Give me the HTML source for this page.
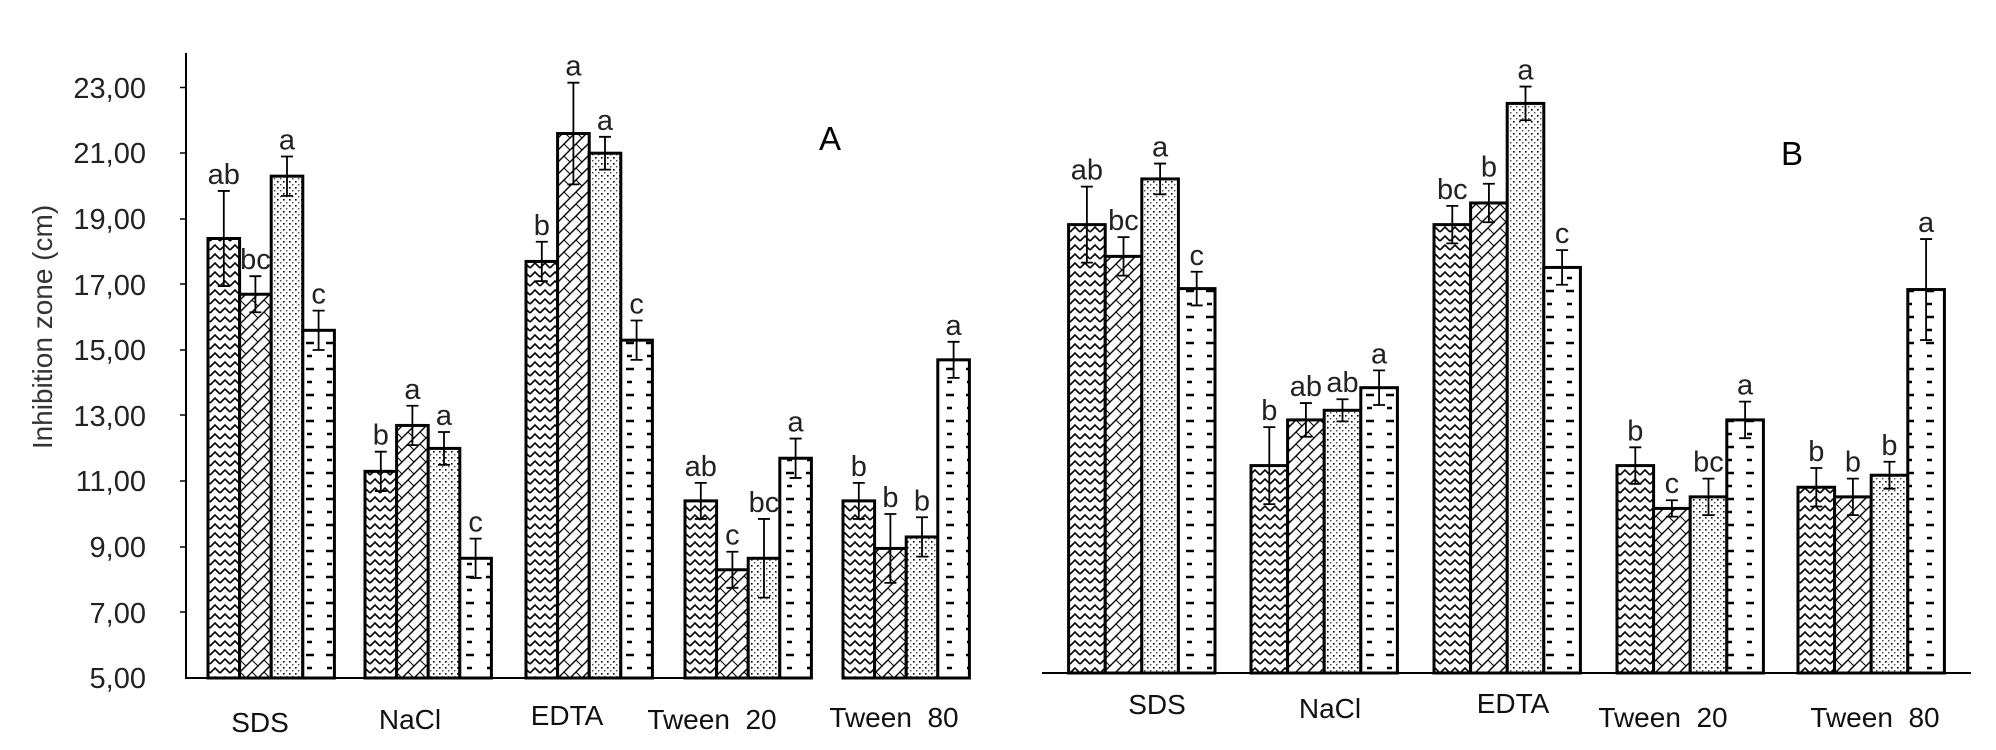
<!DOCTYPE html>
<html><head><meta charset="utf-8"><style>
html,body{margin:0;padding:0;background:#fff;}
svg{display:block;font-family:"Liberation Sans",Arial,sans-serif;}
</style></head><body>
<svg id="s" width="1996" height="750" viewBox="0 0 1996 750" xmlns="http://www.w3.org/2000/svg">
<defs>
<pattern id="pz" width="10" height="9" patternUnits="userSpaceOnUse"><polyline points="0,7 5,2 10,7" fill="none" stroke="#000" stroke-width="1.6"/></pattern>
<pattern id="ph" width="12" height="12" patternUnits="userSpaceOnUse"><path d="M0,12 L12,0 M-3,3 L3,-3 M9,15 L15,9" stroke="#000" stroke-width="1.4"/><path d="M0,0 L6,6" stroke="#000" stroke-width="1"/></pattern>
<pattern id="pd" width="6" height="6" patternUnits="userSpaceOnUse"><rect x="1" y="1" width="1.6" height="1.6" fill="#000"/><rect x="4" y="4" width="1.4" height="1.4" fill="#444"/></pattern>
<pattern id="pl" width="20" height="26" patternUnits="userSpaceOnUse"><path d="M6,5 H14 M7,18 H12" stroke="#000" stroke-width="2.6"/></pattern>
</defs>
<g id="g"></g>
<line x1="186" y1="53" x2="186" y2="679" stroke="#000" stroke-width="2"/>
<line x1="185" y1="678" x2="795" y2="678" stroke="#000" stroke-width="2"/>
<g font-size="29" text-anchor="end" fill="#222">
<text x="146" y="98">23,00</text><text x="146" y="163">21,00</text><text x="146" y="229">19,00</text>
<text x="146" y="295">17,00</text><text x="146" y="360">15,00</text><text x="146" y="426">13,00</text>
<text x="146" y="491">11,00</text><text x="146" y="557">9,00</text><text x="146" y="623">7,00</text>
<text x="146" y="688">5,00</text>
</g>
<g stroke="#000" stroke-width="1.5">
<line x1="180" y1="87.5" x2="186" y2="87.5"/><line x1="180" y1="153" x2="186" y2="153"/><line x1="180" y1="219" x2="186" y2="219"/><line x1="180" y1="284" x2="186" y2="284"/><line x1="180" y1="350" x2="186" y2="350"/><line x1="180" y1="415" x2="186" y2="415"/><line x1="180" y1="481" x2="186" y2="481"/><line x1="180" y1="547" x2="186" y2="547"/><line x1="180" y1="612" x2="186" y2="612"/>
</g>
<text transform="translate(52,327) rotate(-90)" font-size="28" text-anchor="middle" fill="#333">Inhibition zone (cm)</text>
<text x="830" y="150" font-size="33" text-anchor="middle">A</text>
<g font-size="28" text-anchor="middle" fill="#111">
<text x="260" y="732">SDS</text><text x="410" y="729">NaCl</text><text x="567" y="725">EDTA</text>
<text x="712" y="729">Tween&#160; 20</text><text x="894" y="727">Tween&#160; 80</text>
</g>
<line x1="1042" y1="673" x2="1971" y2="673" stroke="#000" stroke-width="2"/>
<text x="1792" y="165" font-size="33" text-anchor="middle">B</text>
<g font-size="28" text-anchor="middle" fill="#111">
<text x="1157" y="714">SDS</text><text x="1330" y="718">NaCl</text><text x="1513" y="713">EDTA</text>
<text x="1663" y="727">Tween&#160; 20</text><text x="1875" y="727">Tween&#160; 80</text>
</g>
</svg>
<script>
var NS="http://www.w3.org/2000/svg",G=document.getElementById("g");
function el(t,a,txt){var e=document.createElementNS(NS,t);for(var k in a)e.setAttribute(k,a[k]);if(txt)e.textContent=txt;G.appendChild(e);return e;}
var pats=["pz","ph","pd","pl"];
function bar(x,w,top,base,et,eb,lab){
 el("rect",{x:x,y:top,width:w,height:base-top,fill:"#fff"});
 el("rect",{x:x,y:top,width:w,height:base-top,fill:"url(#"+pats[bar.i%4]+")",stroke:"#000","stroke-width":3});
 var cx=x+w/2;
 el("path",{d:"M"+cx+","+et+"V"+eb+"M"+(cx-6)+","+et+"H"+(cx+6)+"M"+(cx-6)+","+eb+"H"+(cx+6),stroke:"#000","stroke-width":1.8,fill:"none"});
 el("text",{x:cx,y:et-7,"font-size":29,"text-anchor":"middle",fill:"#222"},lab);
 bar.i++;
}
bar.i=0;
var f=function(v){return 678-(v-5)*32.8;};
var A=[[208,[[18.4,1.45,"ab"],[16.7,0.55,"bc"],[20.3,0.6,"a"],[15.6,0.6,"c"]]],
[365,[[11.3,0.6,"b"],[12.7,0.6,"a"],[12.0,0.5,"a"],[8.65,0.6,"c"]]],
[526,[[17.7,0.6,"b"],[21.6,1.55,"a"],[21.0,0.5,"a"],[15.3,0.6,"c"]]],
[685,[[10.4,0.55,"ab"],[8.3,0.55,"c"],[8.65,1.2,"bc"],[11.7,0.6,"a"]]],
[843,[[10.4,0.55,"b"],[8.95,1.05,"b"],[9.3,0.6,"b"],[14.7,0.55,"a"]]]];
A.forEach(function(g){g[1].forEach(function(b,i){bar(g[0]+i*31.6,31.6,f(b[0]),678,f(b[0]+b[1]),f(b[0]-b[1]),b[2]);});});
var k=0.481;
var B=[[1068.6,[[467,388,"ab"],[533,493,"bc"],[372,340,"a"],[600,565,"c"]]],
[1251,[[968,888,"b"],[873,838,"ab"],[853,830,"ab"],[806,770,"a"]]],
[1434,[[467,428,"bc"],[422,382,"b"],[215,180,"a"],[556,520,"c"]]],
[1617,[[968,930,"b"],[1057,1040,"c"],[1033,995,"bc"],[873,835,"a"]]],
[1798,[[1013,973,"b"],[1033,995,"b"],[988,960,"b"],[602,497,"a"]]]];
B.forEach(function(g){g[1].forEach(function(b,i){var t=b[0]*k,e=b[1]*k;bar(g[0]+i*36.6,36.6,t,673,e,2*t-e,b[2]);});});
</script>
</body></html>
